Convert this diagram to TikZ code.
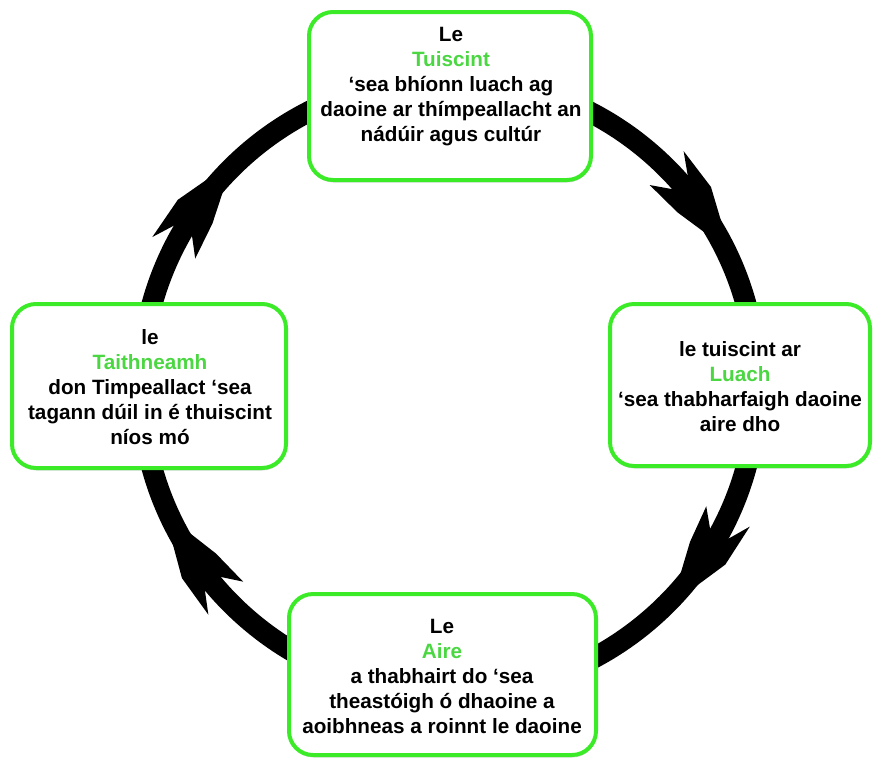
\documentclass[tikz,border=0pt]{standalone}
\usepackage{fontspec}
\setmainfont{Liberation Sans}
\usetikzlibrary{shadows}
\definecolor{boxgreen}{RGB}{60,235,40}
\definecolor{txtgreen}{RGB}{75,215,65}
\begin{document}
\begin{tikzpicture}[x=1pt,y=-1pt,
  cyclebox/.style={draw=boxgreen, line width=4pt, rounded corners=24pt, fill=white, inner sep=0pt,
    drop shadow={fill=black, opacity=0.15, shadow xshift=0.5pt, shadow yshift=-2.5pt}},
  cycletext/.style={anchor=base, inner sep=0pt, font=\fontsize{20.7}{25}\selectfont\bfseries},
  barbhead/.style={fill=black}]
\useasboundingbox (0,0) rectangle (874,758);
\fill[white] (0,0) rectangle (874,758);
% ring
\coordinate (ring) at (449,386);
\draw[line width=21pt] (ring) circle[radius=308pt];
% arrow heads (clockwise)
\begin{scope}[shift={(ring)}]
\foreach \a in {32.5,143.9,214.1,322.4}{
  \fill[barbhead] ({\a+6.51}:318) -- ({\a+0.37}:329) -- ({\a-7.44}:332) -- ({\a-3.72}:318)
    -- ({\a-3.72}:298) -- ({\a-7.44}:284) -- ({\a+0.37}:287) -- ({\a+6.51}:298) -- cycle;
}
\end{scope}
% boxes
\node[cyclebox, minimum width=282pt, minimum height=168pt] (topbox) at (450,96) {};
\node[cyclebox, minimum width=260pt, minimum height=162pt] (rightbox) at (740,385) {};
\node[cyclebox, minimum width=274pt, minimum height=164pt] (leftbox) at (149,386) {};
\node[cyclebox, minimum width=307pt, minimum height=161pt] (bottombox) at (442.5,674.5) {};
% texts
\node[cycletext] (toptext) at (451,41) {\begin{tabular}[t]{@{}c@{}}Le\\ \textcolor{txtgreen}{Tuiscint}\\ ‘sea bhíonn luach ag\\ daoine ar thímpeallacht an\\ nádúir agus cultúr\end{tabular}};
\node[cycletext] (righttext) at (740,356) {\begin{tabular}[t]{@{}c@{}}le tuiscint ar\\ \textcolor{txtgreen}{Luach}\\ ‘sea thabharfaigh daoine\\ aire dho\end{tabular}};
\node[cycletext] (lefttext) at (150,344) {\begin{tabular}[t]{@{}c@{}}le\\ \textcolor{txtgreen}{Taithneamh}\\ don Timpeallact ‘sea\\ tagann dúil in é thuiscint\\ níos mó\end{tabular}};
\node[cycletext] (bottomtext) at (442,633) {\begin{tabular}[t]{@{}c@{}}Le\\ \textcolor{txtgreen}{Aire}\\ a thabhairt do ‘sea\\ theastóigh ó dhaoine a\\ aoibhneas a roinnt le daoine\end{tabular}};
\end{tikzpicture}
\end{document}
